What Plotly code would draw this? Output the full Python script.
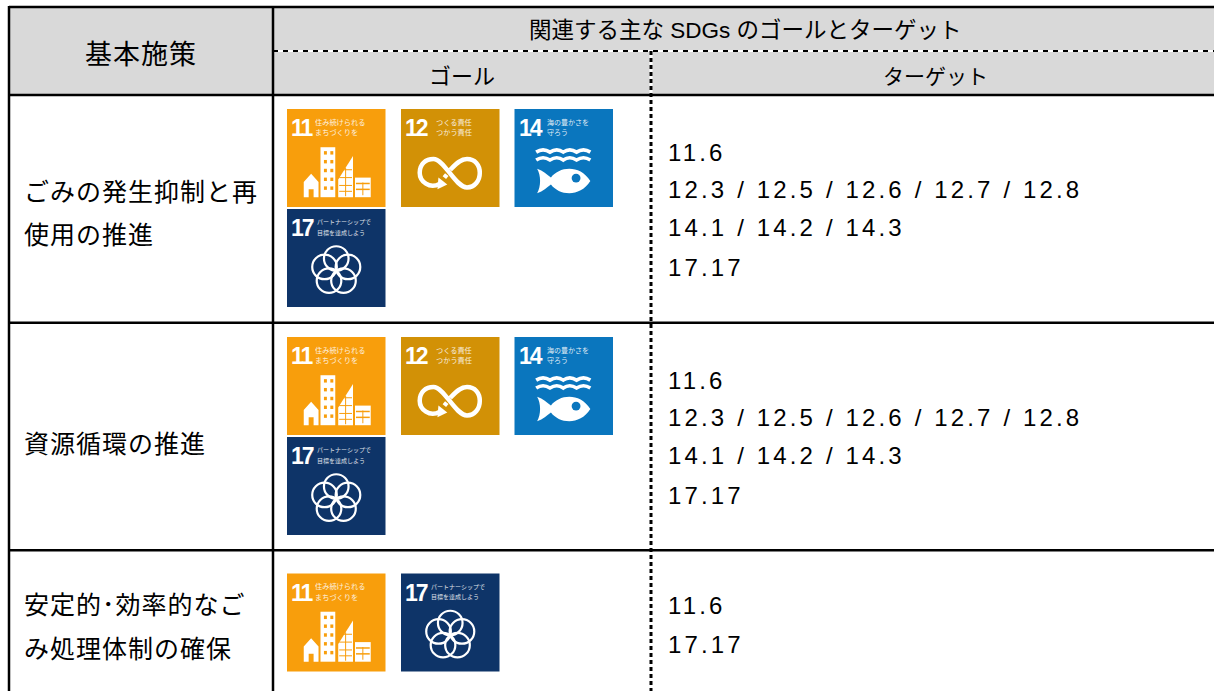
import math
import plotly.graph_objects as go

W, H = 1214, 691
BLACK = "#000000"
JP = "Liberation Sans, Noto Sans CJK JP, sans-serif"
LAT = "Liberation Sans, Arial, sans-serif"

# ---- content ----
header_main = "基本施策"
header_group = "関連する主な SDGs のゴールとターゲット"
header_goal = "ゴール"
header_target = "ターゲット"
row_labels = [["ごみの発生抑制と再", "使用の推進"], ["資源循環の推進"], ["安定的･効率的なご", "み処理体制の確保"]]
row_goals = [[11, 12, 14, 17], [11, 12, 14, 17], [11, 17]]
row_targets = [
    ["11.6", "12.3 / 12.5 / 12.6 / 12.7 / 12.8", "14.1 / 14.2 / 14.3", "17.17"],
    ["11.6", "12.3 / 12.5 / 12.6 / 12.7 / 12.8", "14.1 / 14.2 / 14.3", "17.17"],
    ["11.6", "17.17"],
]
goal_colors = {11: "#F89E0C", 12: "#D29106", 14: "#0A76BE", 17: "#0E3468"}
goal_text = {
    11: ["住み続けられる", "まちづくりを"],
    12: ["つくる責任", "つかう責任"],
    14: ["海の豊かさを", "守ろう"],
    17: ["パートナーシップで", "目標を達成しよう"],
}

# ---- layout geometry ----
X_L, X_C1, X_C2 = 9, 273, 651
Y_T, Y_D, Y_H, Y_R1, Y_R2 = 7, 51, 95, 322.7, 550.3
ICON_W, ICON_H = 98.5, 98

shapes, annots = [], []


def rect(x0, y0, x1, y1, fill):
    shapes.append(dict(type="rect", x0=x0, y0=y0, x1=x1, y1=y1, fillcolor=fill, line_width=0, layer="below"))


def line(x0, y0, x1, y1, w=2.5, color=BLACK, dash=None):
    l = dict(color=color, width=w)
    if dash:
        l["dash"] = dash
    shapes.append(dict(type="line", x0=x0, y0=y0, x1=x1, y1=y1, line=l))


def text(x, y, s, size, font=JP, anchor="left", spacing=0, color="#000000", weight=None, opacity=1):
    body = f'<span style="letter-spacing:{spacing}px">{s}</span>' if spacing else s
    f = dict(family=font, size=size, color=color)
    if weight:
        f["weight"] = weight
    annots.append(dict(x=x, y=y, text=body, showarrow=False, xanchor=anchor, yanchor="middle",
                       align=anchor, font=f, opacity=opacity,
                       xref="x", yref="y", borderpad=0, borderwidth=0))


def path(x0, y0, w, h, cmds, fill=None, stroke=None, sw=0):
    out = []
    for c in cmds:
        if isinstance(c, str):
            out.append(c)
        else:
            out.append(f"{x0 + c[0] * w:.2f},{y0 + c[1] * h:.2f}")
    s = dict(type="path", path=" ".join(out), line=dict(width=sw, color=stroke or "rgba(0,0,0,0)"))
    if fill:
        s["fillcolor"] = fill
    shapes.append(s)


def icon(goal, x0, y0):
    w, h = ICON_W, ICON_H
    col = goal_colors[goal]
    rect(x0, y0, x0 + w, y0 + h, col)
    text(x0 + 0.045 * w, y0 + 0.195 * h, str(goal), 23, font=LAT, color="white", weight="bold", spacing=-2)
    tx = {11: 0.285, 12: 0.355, 14: 0.33, 17: 0.30}[goal]
    ts = {11: 7.2, 12: 7.2, 14: 7, 17: 6}[goal]
    for i, s in enumerate(goal_text[goal]):
        text(x0 + tx * w, y0 + (0.135 + 0.105 * i) * h, s, ts, color="white", opacity=0.85)
    white = "#FFFFFF"
    if goal == 11:
        path(x0, y0, w, h, ["M", (.17, .90), "L", (.17, .745), "L", (.245, .66), "L", (.32, .745), "L", (.32, .90),
                            "L", (.27, .90), "L", (.27, .82), "L", (.22, .82), "L", (.22, .90), "Z"], fill=white)
        shapes.append(dict(type="rect", x0=x0 + .34 * w, y0=y0 + .39 * h, x1=x0 + .49 * w, y1=y0 + .90 * h,
                           fillcolor=white, line_width=0))
        path(x0, y0, w, h, ["M", (.52, .90), "L", (.52, .72), "L", (.67, .48), "L", (.67, .90), "Z"], fill=white)
        shapes.append(dict(type="rect", x0=x0 + .69 * w, y0=y0 + .70 * h, x1=x0 + .85 * w, y1=y0 + .90 * h,
                           fillcolor=white, line_width=0))
        for r in range(5):
            for cx in (.375, .44):
                yy = .43 + r * .09
                shapes.append(dict(type="rect", x0=x0 + cx * w, y0=y0 + yy * h, x1=x0 + (cx + .03) * w,
                                   y1=y0 + (yy + .035) * h, fillcolor=col, line_width=0))
        for yy in (.62, .70, .78, .84):
            line(x0 + .53 * w, y0 + yy * h, x0 + .66 * w, y0 + yy * h, w=1, color=col)
        line(x0 + .595 * w, y0 + .60 * h, x0 + .595 * w, y0 + .89 * h, w=1, color=col)
        for yy in (.76, .82):
            line(x0 + .70 * w, y0 + yy * h, x0 + .84 * w, y0 + yy * h, w=1.5, color=col)
        line(x0 + .77 * w, y0 + .75 * h, x0 + .77 * w, y0 + .88 * h, w=1, color=col)
    elif goal == 12:
        path(x0, y0, w, h,
             ["M", (.39, .765), "C", (.29, .82), (.19, .74), (.19, .65), "C", (.19, .56), (.25, .51), (.33, .51),
              "C", (.44, .51), (.55, .80), (.67, .80), "C", (.75, .80), (.80, .73), (.80, .65),
              "C", (.80, .57), (.75, .51), (.67, .51), "C", (.60, .51), (.55, .57), (.50, .62)],
             stroke=white, sw=4.5)
        path(x0, y0, w, h, ["M", (.465, .67), "L", (.44, .70)], stroke=white, sw=4.5)
        path(x0, y0, w, h, ["M", (.38, .70), "L", (.47, .77), "L", (.37, .82), "Z"], fill=white)
    elif goal == 14:
        for yy in (.44, .52):
            path(x0, y0, w, h,
                 ["M", (.22, yy), "Q", (.29, yy - .045), (.36, yy), "Q", (.43, yy - .045), (.495, yy),
                  "Q", (.56, yy - .045), (.63, yy), "Q", (.70, yy - .045), (.77, yy)], stroke=white, sw=3.6)
        path(x0, y0, w, h,
             ["M", (.23, .61), "C", (.29, .63), (.33, .67), (.37, .70), "C", (.45, .59), (.66, .56), (.77, .735),
              "C", (.66, .91), (.45, .88), (.37, .77), "C", (.33, .80), (.29, .84), (.23, .86),
              "C", (.27, .79), (.27, .68), (.23, .61), "Z"], fill=white)
        shapes.append(dict(type="circle", x0=x0 + .58 * w, y0=y0 + .66 * h, x1=x0 + .67 * w, y1=y0 + .75 * h,
                           fillcolor=col, line_width=0))
    elif goal == 17:
        cx, cy, d, r = .50, .63, .125, .125
        for k in range(5):
            a = -math.pi / 2 + k * 2 * math.pi / 5
            px, py = cx + d * math.cos(a), cy + d * math.sin(a)
            shapes.append(dict(type="circle", x0=x0 + (px - r) * w, y0=y0 + (py - r) * h, x1=x0 + (px + r) * w,
                               y1=y0 + (py + r) * h, line=dict(color=white, width=2.2)))


# ---- table ----
rect(X_L, Y_T, W, Y_H, "#D9D9D9")
# dashed rules: white underlay, black dashes
line(X_C1, Y_D, W, Y_D, w=2, color="#FFFFFF")
line(X_C1, Y_D, W, Y_D, w=2, dash="5px,5px")
line(X_C2, Y_D, X_C2, H, w=3, color="#FFFFFF")
line(X_C2, Y_D, X_C2, H, w=3, dash="4px,3px")
line(X_L, Y_T, W, Y_T)
line(X_L, Y_H, W, Y_H)
line(X_L, Y_R1, W, Y_R1)
line(X_L, Y_R2, W, Y_R2)
line(X_L, Y_T - 1, X_L, H)
line(X_C1, Y_T, X_C1, H)

# ---- headers ----
text(141, 55, header_main, 27, anchor="center", spacing=1)
text(745, 30, header_group, 22.5, anchor="center")
text(462, 76, header_goal, 22, anchor="center")
text(935, 76, header_target, 21, anchor="center")

# ---- rows ----
label_ys = [[192, 235], [444], [605, 649]]
target_ys = [[152, 189, 227, 267], [380, 417, 455, 495], [605, 644]]
icon_slots = [
    {11: (287, 109), 12: (401, 109), 14: (514.5, 109), 17: (287, 209)},
    {11: (287, 337), 12: (401, 337), 14: (514.5, 337), 17: (287, 437)},
    {11: (287, 573.5), 17: (401, 573.5)},
]
for i in range(3):
    for s, y in zip(row_labels[i], label_ys[i]):
        text(24, y, s, 25, spacing=1)
    for s, y in zip(row_targets[i], target_ys[i]):
        text(668, y, s, 24, font=LAT, spacing=3.15)
    for g in row_goals[i]:
        icon(g, *icon_slots[i][g])

fig = go.Figure()
fig.update_layout(
    width=W, height=H, margin=dict(l=0, r=0, t=0, b=0), paper_bgcolor="white", plot_bgcolor="white",
    xaxis=dict(range=[0, W], visible=False, fixedrange=True),
    yaxis=dict(range=[H, 0], visible=False, fixedrange=True),
    shapes=shapes, annotations=annots, showlegend=False,
)
fig.write_html("out.html", config={"displayModeBar": False},
               post_script="document.body.style.margin='0';document.body.style.overflow='hidden';")
